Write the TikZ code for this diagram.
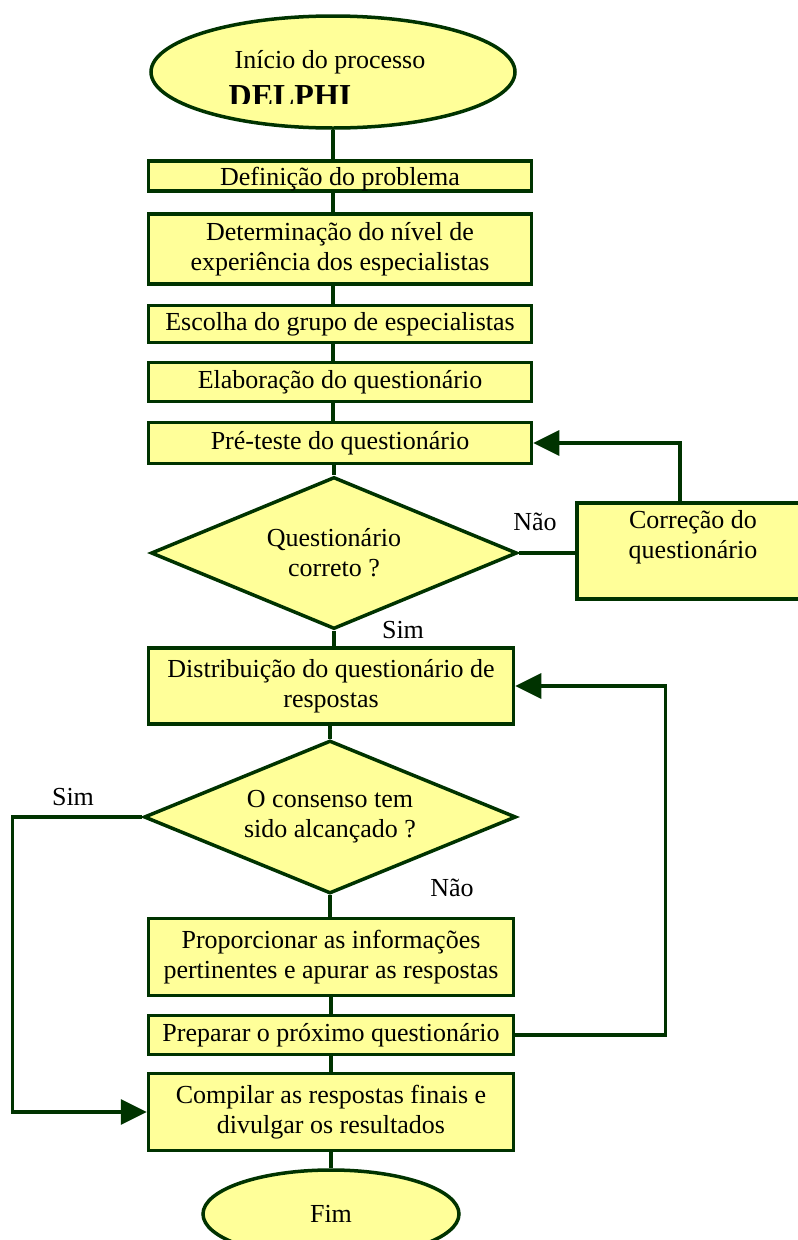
\documentclass[tikz,border=0pt]{standalone}
\usepackage{fontspec}
\setmainfont{Liberation Serif}
\usetikzlibrary{shapes.geometric,arrows.meta}
\definecolor{boxfill}{RGB}{255,255,153}
\definecolor{boxline}{RGB}{0,51,0}
\begin{document}
\begin{tikzpicture}[x=1pt,y=-1pt,
    font=\fontsize{26}{30}\selectfont,
    every node/.style={inner sep=1pt},
    stepbox/.style={rectangle,draw=boxline,fill=boxfill,line width=3.5pt,align=center,minimum width=383pt},
    test/.style={diamond,draw=boxline,fill=boxfill,line width=3.5pt,align=center,inner sep=0pt,aspect=2.4},
    term/.style={ellipse,draw=boxline,fill=boxfill,line width=3.5pt,inner sep=0pt},
    link/.style={draw=boxline,line width=3.5pt},
    flow/.style={link,-{Triangle[length=26pt,width=25pt]}}]
  \useasboundingbox (0,0) rectangle (798,1240);

  \node[term,minimum width=364pt,minimum height=112pt] (start) at (333,72) {};
  \node (starttxt) at (330,62) {Início do processo};
  \begin{scope}
    \clip (0,0) rectangle (798,103);
    \node[anchor=base,font=\fontsize{32}{36}\selectfont\bfseries] (delphi) at (290,106) {DELPHI};
  \end{scope}

  \node[stepbox,minimum height=30pt,text depth=0pt] (def) at (340,176) {Definição do problema};
  \node[stepbox,minimum height=70pt] (det) at (340,249) {Determinação do nível de\\experiência dos especialistas};
  \node[stepbox,minimum height=37pt] (esc) at (340,324) {Escolha do grupo de especialistas};
  \node[stepbox,minimum height=39pt] (ela) at (340,382) {Elaboração do questionário};
  \node[stepbox,minimum height=41pt] (pre) at (340,443) {Pré-teste do questionário};
  \node[test,minimum width=366pt,minimum height=152pt] (q1) at (334,553) {Questionário\\correto ?};
  \node[stepbox,minimum width=232pt,minimum height=96pt] (corr) at (693,551) {};
  \node[align=center] (corrtxt) at (693,537) {Correção do\\questionário};
  \node (nao1) at (535,522) {Não};
  \node (sim1) at (403,630) {Sim};

  \node[stepbox,minimum width=365pt,minimum height=76pt] (dist) at (331,686) {Distribuição do questionário de\\respostas};
  \node[test,minimum width=372pt,minimum height=153pt] (q2) at (330,817) {O consenso tem\\sido alcançado ?};
  \node (sim2) at (73,797) {Sim};
  \node (nao2) at (452,888) {Não};
  \node[stepbox,minimum width=365pt,minimum height=77pt] (prop) at (331,957) {Proporcionar as informações\\pertinentes e apurar as respostas};
  \node[stepbox,minimum width=365pt,minimum height=39pt] (prep) at (331,1035) {Preparar o próximo questionário};
  \node[stepbox,minimum width=365pt,minimum height=77pt] (comp) at (331,1112) {Compilar as respostas finais e\\divulgar os resultados};
  \node[term,minimum width=256pt,minimum height=88pt] (fim) at (331,1214) {Fim};

  \draw[link] (start.south) -- (def.north -| start.south);
  \draw[link] (def.south -| start) -- (det.north -| start);
  \draw[link] (det.south -| start) -- (esc.north -| start);
  \draw[link] (esc.south -| start) -- (ela.north -| start);
  \draw[link] (ela.south -| start) -- (pre.north -| start);
  \draw[link] (pre.south -| q1.north) -- (q1.north);
  \draw[link] (q1.east) -- (q1.east -| corr.west);
  \draw[flow] ([xshift=-13pt]corr.north) |- (pre.east);
  \draw[link] (q1.south) -- (dist.north -| q1.south);
  \draw[link] (dist.south -| q2.north) -- (q2.north);
  \draw[link] (q2.south) -- (prop.north -| q2.south);
  \draw[link] (prop.south) -- (prep.north);
  \draw[link] (prep.south) -- (comp.north);
  \draw[link] (comp.south) -- (fim.north);
  \draw[flow] (prep.east) -- ++(150,0) |- (dist.east);
  \draw[flow] (q2.west) -- ++(-130,0) |- (comp.west);
\end{tikzpicture}
\end{document}
